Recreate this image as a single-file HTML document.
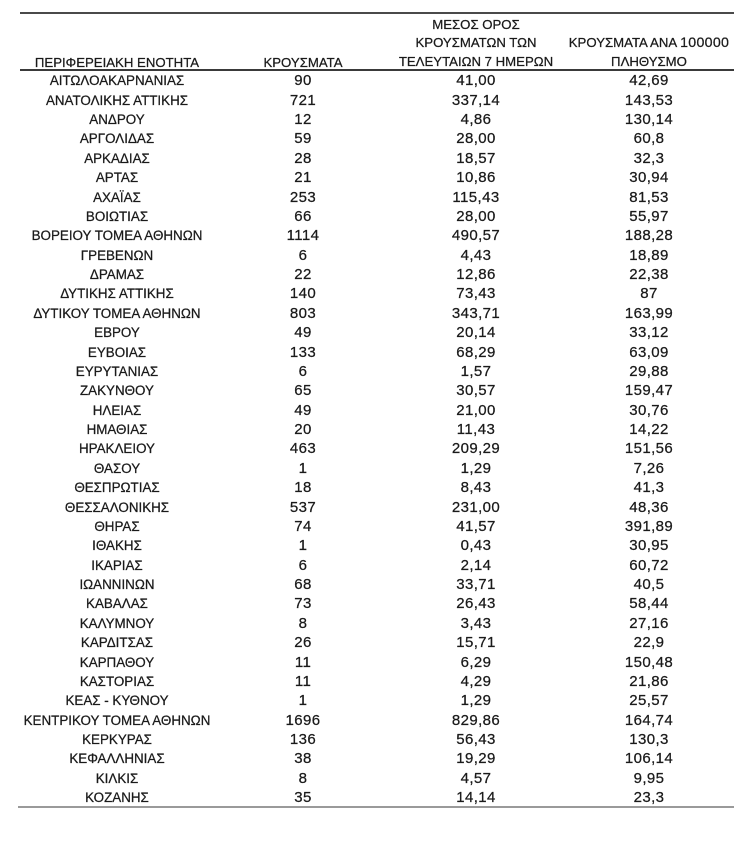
<!DOCTYPE html>
<html>
<head>
<meta charset="utf-8">
<style>
  html,body{margin:0;padding:0;background:#fff;}
  body{width:734px;height:862px;position:relative;overflow:hidden;
       font-family:"Liberation Sans","DejaVu Sans",sans-serif;color:#1a1a1a;
       -webkit-text-stroke:0.25px #1a1a1a;}
  .line{position:absolute;height:2px;}
  .h{position:absolute;font-size:13.2px;line-height:18.5px;text-align:center;width:220px;white-space:nowrap;}
  .rows{position:absolute;left:0;top:71.3px;width:734px;}
  .r{position:relative;height:19.38px;line-height:19.38px;}
  .r span{position:absolute;top:0;width:220px;text-align:center;white-space:nowrap;}
  .c1{left:7px;font-size:13.4px;}
  .c2{left:193px;font-size:15px;letter-spacing:0.4px;}
  .c3{left:366px;font-size:15px;letter-spacing:0.4px;}
  .c4{left:539px;font-size:15px;letter-spacing:0.4px;}
</style>
</head>
<body>
<div class="line" style="left:20px;top:12px;width:714px;background:#4a4a4a;"></div>
<div class="line" style="left:20px;top:69px;width:714px;background:#3a3a3a;"></div>
<div class="line" style="left:18px;top:806px;width:716px;background:#9a9a9a;"></div>

<div class="h" style="left:7px;top:53.5px;">ΠΕΡΙΦΕΡΕΙΑΚΗ ΕΝΟΤΗΤΑ</div>
<div class="h" style="left:193px;top:53.5px;">ΚΡΟΥΣΜΑΤΑ</div>
<div class="h" style="left:366px;top:16px;">ΜΕΣΟΣ ΟΡΟΣ</div>
<div class="h" style="left:366px;top:34px;">ΚΡΟΥΣΜΑΤΩΝ ΤΩΝ</div>
<div class="h" style="left:366px;top:53px;">ΤΕΛΕΥΤΑΙΩΝ 7 ΗΜΕΡΩΝ</div>
<div class="h" style="left:539px;top:34px;">ΚΡΟΥΣΜΑΤΑ ΑΝΑ <span style="font-size:14.2px;letter-spacing:0.3px">100000</span></div>
<div class="h" style="left:539px;top:53px;">ΠΛΗΘΥΣΜΟ</div>

<div class="rows">
<div class="r"><span class="c1">ΑΙΤΩΛΟΑΚΑΡΝΑΝΙΑΣ</span><span class="c2">90</span><span class="c3">41,00</span><span class="c4">42,69</span></div>
<div class="r"><span class="c1">ΑΝΑΤΟΛΙΚΗΣ ΑΤΤΙΚΗΣ</span><span class="c2">721</span><span class="c3">337,14</span><span class="c4">143,53</span></div>
<div class="r"><span class="c1">ΑΝΔΡΟΥ</span><span class="c2">12</span><span class="c3">4,86</span><span class="c4">130,14</span></div>
<div class="r"><span class="c1">ΑΡΓΟΛΙΔΑΣ</span><span class="c2">59</span><span class="c3">28,00</span><span class="c4">60,8</span></div>
<div class="r"><span class="c1">ΑΡΚΑΔΙΑΣ</span><span class="c2">28</span><span class="c3">18,57</span><span class="c4">32,3</span></div>
<div class="r"><span class="c1">ΑΡΤΑΣ</span><span class="c2">21</span><span class="c3">10,86</span><span class="c4">30,94</span></div>
<div class="r"><span class="c1">ΑΧΑΪΑΣ</span><span class="c2">253</span><span class="c3">115,43</span><span class="c4">81,53</span></div>
<div class="r"><span class="c1">ΒΟΙΩΤΙΑΣ</span><span class="c2">66</span><span class="c3">28,00</span><span class="c4">55,97</span></div>
<div class="r"><span class="c1">ΒΟΡΕΙΟΥ ΤΟΜΕΑ ΑΘΗΝΩΝ</span><span class="c2">1114</span><span class="c3">490,57</span><span class="c4">188,28</span></div>
<div class="r"><span class="c1">ΓΡΕΒΕΝΩΝ</span><span class="c2">6</span><span class="c3">4,43</span><span class="c4">18,89</span></div>
<div class="r"><span class="c1">ΔΡΑΜΑΣ</span><span class="c2">22</span><span class="c3">12,86</span><span class="c4">22,38</span></div>
<div class="r"><span class="c1">ΔΥΤΙΚΗΣ ΑΤΤΙΚΗΣ</span><span class="c2">140</span><span class="c3">73,43</span><span class="c4">87</span></div>
<div class="r"><span class="c1">ΔΥΤΙΚΟΥ ΤΟΜΕΑ ΑΘΗΝΩΝ</span><span class="c2">803</span><span class="c3">343,71</span><span class="c4">163,99</span></div>
<div class="r"><span class="c1">ΕΒΡΟΥ</span><span class="c2">49</span><span class="c3">20,14</span><span class="c4">33,12</span></div>
<div class="r"><span class="c1">ΕΥΒΟΙΑΣ</span><span class="c2">133</span><span class="c3">68,29</span><span class="c4">63,09</span></div>
<div class="r"><span class="c1">ΕΥΡΥΤΑΝΙΑΣ</span><span class="c2">6</span><span class="c3">1,57</span><span class="c4">29,88</span></div>
<div class="r"><span class="c1">ΖΑΚΥΝΘΟΥ</span><span class="c2">65</span><span class="c3">30,57</span><span class="c4">159,47</span></div>
<div class="r"><span class="c1">ΗΛΕΙΑΣ</span><span class="c2">49</span><span class="c3">21,00</span><span class="c4">30,76</span></div>
<div class="r"><span class="c1">ΗΜΑΘΙΑΣ</span><span class="c2">20</span><span class="c3">11,43</span><span class="c4">14,22</span></div>
<div class="r"><span class="c1">ΗΡΑΚΛΕΙΟΥ</span><span class="c2">463</span><span class="c3">209,29</span><span class="c4">151,56</span></div>
<div class="r"><span class="c1">ΘΑΣΟΥ</span><span class="c2">1</span><span class="c3">1,29</span><span class="c4">7,26</span></div>
<div class="r"><span class="c1">ΘΕΣΠΡΩΤΙΑΣ</span><span class="c2">18</span><span class="c3">8,43</span><span class="c4">41,3</span></div>
<div class="r"><span class="c1">ΘΕΣΣΑΛΟΝΙΚΗΣ</span><span class="c2">537</span><span class="c3">231,00</span><span class="c4">48,36</span></div>
<div class="r"><span class="c1">ΘΗΡΑΣ</span><span class="c2">74</span><span class="c3">41,57</span><span class="c4">391,89</span></div>
<div class="r"><span class="c1">ΙΘΑΚΗΣ</span><span class="c2">1</span><span class="c3">0,43</span><span class="c4">30,95</span></div>
<div class="r"><span class="c1">ΙΚΑΡΙΑΣ</span><span class="c2">6</span><span class="c3">2,14</span><span class="c4">60,72</span></div>
<div class="r"><span class="c1">ΙΩΑΝΝΙΝΩΝ</span><span class="c2">68</span><span class="c3">33,71</span><span class="c4">40,5</span></div>
<div class="r"><span class="c1">ΚΑΒΑΛΑΣ</span><span class="c2">73</span><span class="c3">26,43</span><span class="c4">58,44</span></div>
<div class="r"><span class="c1">ΚΑΛΥΜΝΟΥ</span><span class="c2">8</span><span class="c3">3,43</span><span class="c4">27,16</span></div>
<div class="r"><span class="c1">ΚΑΡΔΙΤΣΑΣ</span><span class="c2">26</span><span class="c3">15,71</span><span class="c4">22,9</span></div>
<div class="r"><span class="c1">ΚΑΡΠΑΘΟΥ</span><span class="c2">11</span><span class="c3">6,29</span><span class="c4">150,48</span></div>
<div class="r"><span class="c1">ΚΑΣΤΟΡΙΑΣ</span><span class="c2">11</span><span class="c3">4,29</span><span class="c4">21,86</span></div>
<div class="r"><span class="c1">ΚΕΑΣ - ΚΥΘΝΟΥ</span><span class="c2">1</span><span class="c3">1,29</span><span class="c4">25,57</span></div>
<div class="r"><span class="c1">ΚΕΝΤΡΙΚΟΥ ΤΟΜΕΑ ΑΘΗΝΩΝ</span><span class="c2">1696</span><span class="c3">829,86</span><span class="c4">164,74</span></div>
<div class="r"><span class="c1">ΚΕΡΚΥΡΑΣ</span><span class="c2">136</span><span class="c3">56,43</span><span class="c4">130,3</span></div>
<div class="r"><span class="c1">ΚΕΦΑΛΛΗΝΙΑΣ</span><span class="c2">38</span><span class="c3">19,29</span><span class="c4">106,14</span></div>
<div class="r"><span class="c1">ΚΙΛΚΙΣ</span><span class="c2">8</span><span class="c3">4,57</span><span class="c4">9,95</span></div>
<div class="r"><span class="c1">ΚΟΖΑΝΗΣ</span><span class="c2">35</span><span class="c3">14,14</span><span class="c4">23,3</span></div>
</div>
</body>
</html>
